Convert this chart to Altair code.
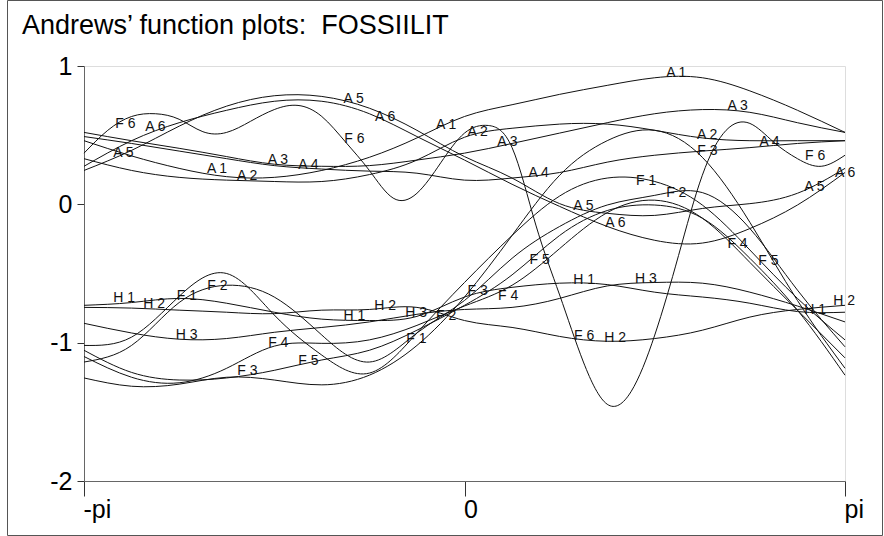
import altair as alt
import pandas as pd

TITLE = "Andrews\u2019 function plots:\u00a0 FOSSIILIT"
x_ticks = [-1, 0, 1]
x_tick_labels = ["-pi", "0", "pi"]
y_ticks = [-2, -1, 0, 1]

# t / pi sample positions
t_grid = [-1, -0.875, -0.75, -0.625, -0.5, -0.375, -0.25, -0.125, 0,
          0.125, 0.25, 0.375, 0.5, 0.625, 0.75, 0.875, 1]
t_fine = [-1, -0.9375, -0.875, -0.8125, -0.75, -0.6875, -0.625, -0.5625, -0.5,
          -0.4375, -0.375, -0.3125, -0.25, -0.1875, -0.125, -0.0625, 0,
          0.0625, 0.125, 0.1875, 0.25, 0.3125, 0.375, 0.4375, 0.5,
          0.5625, 0.625, 0.6875, 0.75, 0.8125, 0.875, 0.9375, 1]

a1 = [0.46, 0.35, 0.26, 0.20, 0.195, 0.245, 0.34, 0.48, 0.635, 0.72, 0.795, 0.86, 0.915, 0.915, 0.82, 0.68, 0.52]
a2 = [0.33, 0.245, 0.195, 0.175, 0.165, 0.165, 0.215, 0.32, 0.485, 0.55, 0.58, 0.58, 0.535, 0.48, 0.46, 0.46, 0.46]
a3 = [0.52, 0.46, 0.405, 0.345, 0.29, 0.275, 0.28, 0.32, 0.37, 0.44, 0.515, 0.59, 0.655, 0.685, 0.665, 0.59, 0.52]
a4 = [0.49, 0.44, 0.385, 0.33, 0.28, 0.255, 0.24, 0.225, 0.175, 0.19, 0.23, 0.305, 0.355, 0.385, 0.41, 0.44, 0.46]
a5 = [0.245, 0.39, 0.565, 0.71, 0.785, 0.78, 0.695, 0.535, 0.345, 0.19, 0.005, -0.065, -0.08, -0.03, 0.005, 0.08, 0.26]
a6 = [0.275, 0.46, 0.59, 0.68, 0.745, 0.745, 0.655, 0.49, 0.32, 0.145, -0.015, -0.16, -0.26, -0.28, -0.175, -0.005, 0.23]
f1 = [-1.02, -0.96, -0.665, -0.5, -0.8, -1.09, -1.22, -0.93, -0.565, -0.225, 0.06, 0.19, 0.165, -0.005, -0.33, -0.68, -0.98]
f2 = [-1.14, -1.02, -0.71, -0.585, -0.67, -0.945, -1.14, -0.93, -0.695, -0.39, -0.16, -0.005, 0.065, 0.085, -0.175, -0.62, -1.03]
f3 = [-1.255, -1.315, -1.30, -1.25, -1.27, -1.305, -1.235, -1.02, -0.67, -0.225, 0.21, 0.46, 0.535, 0.34, -0.13, -0.695, -1.185]
f4 = [-1.10, -1.25, -1.29, -1.185, -1.025, -1.005, -0.98, -0.875, -0.735, -0.585, -0.32, -0.06, 0.03, -0.10, -0.42, -0.765, -1.11]
f5 = [-1.055, -1.215, -1.27, -1.255, -1.20, -1.125, -1.055, -0.91, -0.73, -0.51, -0.225, -0.045, -0.005, -0.10, -0.39, -0.765, -1.235]
f6 = [0.37, 0.535, 0.635, 0.655, 0.615, 0.525, 0.52, 0.6, 0.685, 0.715, 0.635, 0.45, 0.245, 0.045, 0.08, 0.3, 0.515,
      0.57, 0.41, -0.15, -0.655, -1.14, -1.445, -1.355, -0.945, -0.37, 0.21, 0.535, 0.585, 0.45, 0.33, 0.275, 0.355]
h1 = [-0.73, -0.71, -0.68, -0.715, -0.78, -0.83, -0.84, -0.81, -0.67, -0.60, -0.57, -0.58, -0.635, -0.67, -0.715, -0.775, -0.78]
h2 = [-0.745, -0.75, -0.765, -0.78, -0.79, -0.765, -0.76, -0.745, -0.84, -0.89, -0.955, -0.99, -0.97, -0.91, -0.815, -0.76, -0.73]
h3 = [-0.86, -0.93, -0.975, -0.97, -0.925, -0.89, -0.85, -0.795, -0.76, -0.745, -0.68, -0.59, -0.565, -0.57, -0.635, -0.735, -0.85]

curves = [("A1", t_grid, a1), ("A2", t_grid, a2), ("A3", t_grid, a3), ("A4", t_grid, a4),
          ("A5", t_grid, a5), ("A6", t_grid, a6), ("F1", t_grid, f1), ("F2", t_grid, f2),
          ("F3", t_grid, f3), ("F4", t_grid, f4), ("F5", t_grid, f5), ("F6", t_fine, f6),
          ("H1", t_grid, h1), ("H2", t_grid, h2), ("H3", t_grid, h3)]

# curve labels (text, t/pi, value)
lab_text = ["A 1", "A 1", "A 1", "A 2", "A 2", "A 2", "A 3", "A 3", "A 3", "A 4", "A 4", "A 4",
            "A 5", "A 5", "A 5", "A 5", "A 6", "A 6", "A 6", "A 6",
            "F 1", "F 1", "F 1", "F 2", "F 2", "F 2", "F 3", "F 3", "F 3",
            "F 4", "F 4", "F 4", "F 5", "F 5", "F 5", "F 6", "F 6", "F 6", "F 6",
            "H 1", "H 1", "H 1", "H 1", "H 2", "H 2", "H 2", "H 2", "H 3", "H 3", "H 3"]
lab_t = [-0.677, -0.075, 0.53, -0.598, 0.008, 0.611, -0.517, 0.086, 0.691, -0.437, 0.168, 0.775,
         -0.923, -0.318, 0.286, 0.893, -0.839, -0.235, 0.37, 0.974,
         -0.756, -0.153, 0.451, -0.676, -0.075, 0.53, -0.597, 0.008, 0.612,
         -0.516, 0.088, 0.691, -0.437, 0.171, 0.772, -0.918, -0.316, 0.288, 0.895,
         -0.923, -0.318, 0.286, 0.893, -0.844, -0.237, 0.367, 0.969, -0.759, -0.156, 0.448]
lab_v = [0.224, 0.547, 0.924, 0.173, 0.491, 0.474, 0.294, 0.419, 0.679, 0.258, 0.197, 0.419,
         0.342, 0.729, -0.043, 0.096, 0.529, 0.606, -0.164, 0.195,
         -0.693, -1.006, 0.137, -0.621, -0.838, 0.051, -1.235, -0.657, 0.354,
         -1.03, -0.693, -0.318, -1.162, -0.428, -0.44, 0.554, 0.44, -0.982, 0.318,
         -0.705, -0.838, -0.573, -0.794, -0.753, -0.765, -0.994, -0.729, -0.975, -0.814, -0.57]

rows = []
for name, ts, vs in curves:
    for t, v in zip(ts, vs):
        rows.append({"curve": name, "t": t, "v": v})
lines_df = pd.DataFrame(rows)
labels_df = pd.DataFrame({"label": lab_text, "t": lab_t, "v": lab_v})

FONT = "Liberation Sans"
x_label_expr = ("datum.value == -1 ? '" + x_tick_labels[0] + "' : (datum.value == 1 ? '"
                + x_tick_labels[2] + "' : '" + x_tick_labels[1] + "')")
y_label_expr = "'' + datum.value"

x_scale = alt.Scale(domain=[-1, 1], nice=False, zero=False)
y_scale = alt.Scale(domain=[-2, 1], nice=False, zero=False)

x_axis = alt.Axis(values=x_ticks, labelExpr=x_label_expr, title=None, grid=False, tickSize=15,
                  labelFontSize=25, labelFont=FONT, labelColor="#000", domainColor="#666",
                  tickColor="#333", labelPadding=1, labelAlign="left", labelOffset=-1,
                  labelOverlap=False, labelFlush=False)
y_axis = alt.Axis(values=y_ticks, labelExpr=y_label_expr, title=None, grid=False, tickSize=7,
                  labelFontSize=25, labelFont=FONT, labelColor="#000", domainColor="#666",
                  tickColor="#333", labelPadding=5, labelOverlap=False, labelFlush=False)

lines = alt.Chart(lines_df).mark_line(interpolate="natural", color="#111", strokeWidth=1).encode(
    x=alt.X("t:Q", scale=x_scale, axis=x_axis),
    y=alt.Y("v:Q", scale=y_scale, axis=y_axis),
    detail="curve:N",
)

labels = alt.Chart(labels_df).mark_text(align="left", baseline="alphabetic", fontSize=14,
                                         font=FONT, color="#111").encode(
    x=alt.X("t:Q", scale=x_scale),
    y=alt.Y("v:Q", scale=y_scale),
    text="label:N",
)

one = pd.DataFrame({"k": [0]})
title = alt.Chart(one).mark_text(align="left", baseline="alphabetic", fontSize=27,
                                  font=FONT, color="#000").encode(
    x=alt.value(-62), y=alt.value(-32), text=alt.value(TITLE)
)

border = alt.Chart(one).mark_rect(fill=None, stroke="#555", strokeWidth=1).encode(
    x=alt.value(-76.5), x2=alt.value(798.5), y=alt.value(-65.5), y2=alt.value(469.5)
)

chart = alt.layer(lines, labels, title, border).properties(
    width=761, height=415,
    autosize=alt.AutoSizeParams(type="none"),
    padding={"left": 84, "top": 66, "right": 39, "bottom": 55},
).configure_view(stroke="#777", strokeWidth=1).configure(background="white")

chart.save("out.html", embed_options={"renderer": "svg", "actions": False})
